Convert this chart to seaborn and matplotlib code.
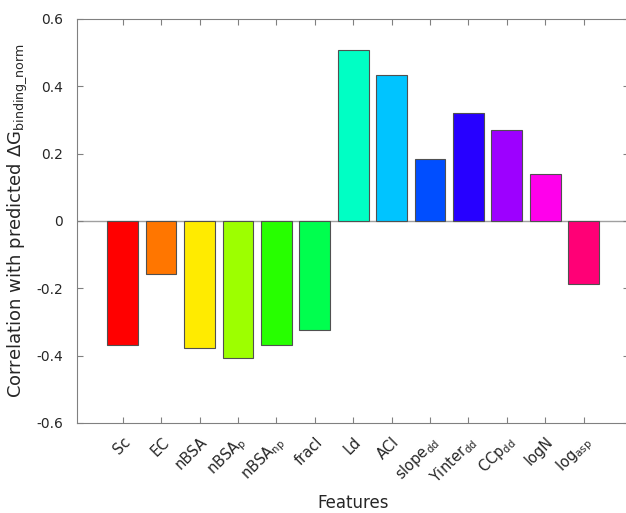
import matplotlib
matplotlib.use("Agg")
import matplotlib.pyplot as plt
import matplotlib.colors as mcolors
from matplotlib.transforms import ScaledTranslation
import seaborn as sns
import pandas as pd
import numpy as np

features = ["Sc", "EC", "nBSA", "nBSA_p", "nBSA_np", "fracl", "Ld", "ACl",
            "slope_dd", "Yinter_dd", "CCp_dd", "logN", "log_asp"]
tick_labels = ["Sc", "EC", "nBSA", r"nBSA$_{\mathrm{p}}$", r"nBSA$_{\mathrm{np}}$",
               "fracl", "Ld", "ACl", r"slope$_{\mathrm{dd}}$", r"Yinter$_{\mathrm{dd}}$",
               r"CCp$_{\mathrm{dd}}$", "logN", r"log$_{\mathrm{asp}}$"]
correlations = [-0.369, -0.157, -0.378, -0.408, -0.367, -0.325, 0.508, 0.433,
                0.185, 0.321, 0.270, 0.140, -0.186]

n = len(features)
colors = [mcolors.hsv_to_rgb((i / n, 1.0, 1.0)) for i in range(n)]

df = pd.DataFrame({"feature": features, "corr": correlations})

sns.set_style("white")
plt.rcParams["font.family"] = ["DejaVu Sans"]
plt.rcParams["mathtext.fontset"] = "dejavusans"

fig = plt.figure(figsize=(6.26, 5.13), dpi=100)
ax = fig.add_axes([77 / 626, 1 - 423 / 513, 552 / 626, 404 / 513])

sns.barplot(data=df, x="feature", y="corr", hue="feature", palette=colors,
            legend=False, width=0.8, edgecolor="#505050", linewidth=0.8,
            saturation=1, ax=ax)

ax.axhline(0, color="#a0a0a0", linewidth=1.0, zorder=0.5)
ax.set_xlim(-1.19, 13.18)
ax.set_ylim(-0.6, 0.6)
ax.set_yticks([-0.6, -0.4, -0.2, 0, 0.2, 0.4, 0.6])
ax.set_yticklabels(["-0.6", "-0.4", "-0.2", "0", "0.2", "0.4", "0.6"], fontsize=10, color="#262626")
ax.set_xticks(range(n))
ax.set_xticklabels(tick_labels, rotation=45, ha="right", va="center", rotation_mode="anchor",
                   fontsize=10.5, color="#262626")
ax.tick_params(axis="y", direction="in", length=4, width=0.8, color="#808080",
               left=True, right=True, pad=10)
ax.tick_params(axis="x", direction="in", length=4, width=0.8, color="#808080",
               top=True, bottom=True, pad=12)
offset = ScaledTranslation(4 / 72, 0, fig.dpi_scale_trans)
for lbl in ax.get_xticklabels():
    lbl.set_transform(lbl.get_transform() + offset)
for s in ax.spines.values():
    s.set_color("#808080")
    s.set_linewidth(0.8)
ax.spines["right"].set_visible(False)

ax.set_xlabel("Features", fontsize=12, color="#262626", labelpad=5)
ax.set_ylabel(r"Correlation with predicted $\Delta\mathrm{G}_{\mathrm{binding\_norm}}$",
              fontsize=13, color="#262626", labelpad=5)

fig.savefig("out.png", dpi=100)
